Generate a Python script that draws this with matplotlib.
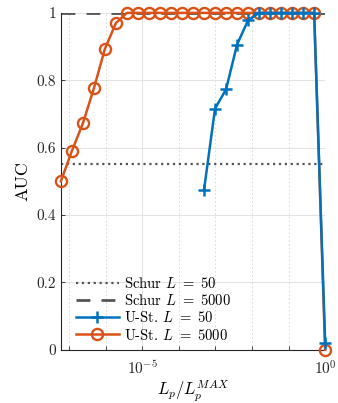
import numpy as np
import matplotlib
matplotlib.use("Agg")
import matplotlib.pyplot as plt
from matplotlib.ticker import FixedLocator, NullFormatter

plt.rcParams['font.family'] = ['cmr10', 'DejaVu Serif']
plt.rcParams['mathtext.fontset'] = 'cm'
plt.rcParams['axes.formatter.use_mathtext'] = True

# exponent k, L_p / L_p^MAX = 2^-k
k_all = np.arange(24, -1, -1)
lp = 2.0 ** (-k_all)

# U-Statistic, L = 5000 (all 25 points)
auc_u5000 = [0.50, 0.59, 0.672, 0.776, 0.893, 0.97,
             1, 1, 1, 1, 1, 1, 1, 1, 1, 1, 1, 1, 1, 1, 1, 1, 1, 1, 0.0]

# U-Statistic, L = 50 (k = 11 ... 0)
k_u50 = np.arange(11, -1, -1)
auc_u50 = [0.474, 0.716, 0.773, 0.906, 0.978, 1, 1, 1, 1, 1, 1, 0.02]

schur_50 = 0.551
schur_5000 = 1.0

blue = '#0072BD'
orange = '#D95319'

fig = plt.figure(figsize=(3.38, 4.03), dpi=100)
ax = fig.add_axes([0.18, 0.132, 0.782, 0.836])

ax.plot(lp, [schur_50] * len(lp), ':', color='#555555', lw=1.6,
        label=r'Schur $L\ =\ 50$')
ax.plot(lp, [schur_5000] * len(lp), '--', color='#555555', lw=2.0,
        dashes=(5, 4), label=r'Schur $L\ =\ 5000$')
ax.plot(2.0 ** (-k_u50), auc_u50, '-+', color=blue, lw=1.8, ms=8, mew=1.8,
        clip_on=False, zorder=4, label=r'U-St. $L\ =\ 50$')
ax.plot(lp, auc_u5000, '-o', color=orange, lw=1.8, ms=8, mew=1.7,
        mfc='none', clip_on=False, zorder=3, label=r'U-St. $L\ =\ 5000$')

ax.set_xscale('log')
ax.set_xlim(2.0 ** -24, 1)
ax.set_ylim(0, 1)

ax.xaxis.set_major_locator(FixedLocator([1e-5, 1]))
ax.xaxis.set_minor_locator(FixedLocator([1e-7, 1e-6, 1e-4, 1e-3, 1e-2, 1e-1]))
ax.xaxis.set_minor_formatter(NullFormatter())
ax.set_yticks([0, 0.2, 0.4, 0.6, 0.8, 1])
ax.set_yticklabels(['0', '0.2', '0.4', '0.6', '0.8', '1'])

ax.grid(True, which='major', color='#e3e3e3', lw=0.8)
ax.grid(True, which='minor', axis='x', color='#d8d8d8', lw=0.7, ls=(0, (1.5, 2.5)))
ax.set_axisbelow(True)

for s in ['top', 'right']:
    ax.spines[s].set_visible(False)
for s in ['left', 'bottom']:
    ax.spines[s].set_color('#262626')
    ax.spines[s].set_linewidth(0.8)

ax.tick_params(which='both', direction='in', colors='#262626', labelsize=11,
               length=3, width=0.6)
ax.tick_params(axis='x', which='major', pad=7)

ax.set_xlabel(r'$L_p/L_p^{MAX}$', fontsize=12, labelpad=0)
ax.set_ylabel('AUC', fontsize=13)

ax.legend(loc='lower left', bbox_to_anchor=(0.028, 0.0), frameon=False,
          fontsize=10.5, handlelength=3.0, borderaxespad=0.1, borderpad=0.4,
          labelspacing=0.15, handletextpad=0.3)

fig.savefig('out.png', dpi=100)
